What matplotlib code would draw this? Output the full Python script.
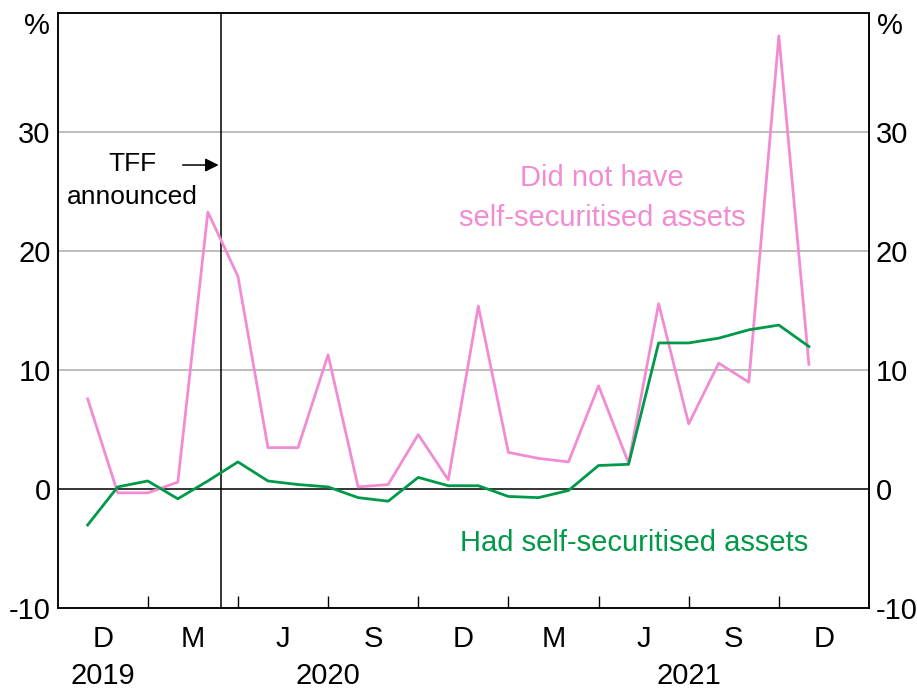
import matplotlib
matplotlib.use('Agg')
from matplotlib import pyplot as plt
from matplotlib.transforms import blended_transform_factory
import numpy as np

plt.rcParams['font.family'] = ['Liberation Sans', 'DejaVu Sans']

# monthly observations, Oct 2019 - Oct 2021 (x = months since 1 Oct 2019, at month end)
months = np.arange(1, 26)
no_self_sec = [7.6, -0.3, -0.3, 0.6, 23.3, 17.9, 3.5, 3.5, 11.3, 0.2, 0.4, 4.6, 0.8,
               15.4, 3.1, 2.6, 2.3, 8.7, 2.2, 15.6, 5.5, 10.6, 9.0, 38.1, 10.5]
had_self_sec = [-3.0, 0.2, 0.7, -0.8, 0.7, 2.3, 0.7, 0.4, 0.2, -0.7, -1.0, 1.0, 0.3,
                0.3, -0.6, -0.7, -0.1, 2.0, 2.1, 12.3, 12.3, 12.7, 13.4, 13.8, 12.0]
quarter_labels = ['D', 'M', 'J', 'S', 'D', 'M', 'J', 'S', 'D']
years = ['2019', '2020', '2021']
year_pos = [1.5, 9, 21]
tff_date = 5.45  # TFF announced, March 2020

pink = '#F28CD2'
green = '#00994A'
fs = 21

fig = plt.figure(figsize=(9.17, 6.91), dpi=100)
ax = fig.add_axes([57.6 / 917, (691 - 608.3) / 691, (869 - 57.6) / 917, (608.3 - 13.3) / 691])

ax.set_xlim(0, 27)
ax.set_ylim(-10, 40)

for y in [10, 20, 30]:
    ax.axhline(y, color='#ababab', lw=1.1, zorder=1)
ax.axhline(0, color='black', lw=1.1, zorder=2)
ax.axvline(tff_date, color='black', lw=1.1, zorder=2)

ax.plot(months, no_self_sec, color=pink, lw=2, zorder=3)
ax.plot(months, had_self_sec, color=green, lw=2, zorder=4)

# x axis: quarter ticks with labels centred in each quarter
ax.set_xticks(np.arange(3, 27, 3), minor=True)
ax.set_xticks(np.arange(1.5, 27, 3))
ax.set_xticklabels(quarter_labels, fontsize=fs)
ax.tick_params(axis='x', which='major', length=0, pad=12)
ax.tick_params(axis='x', which='minor', direction='in', length=8.5, width=1, color='black')
xtrans = blended_transform_factory(ax.transData, ax.transAxes)
for yr, xp in zip(years, year_pos):
    ax.text(xp, -0.113, yr, transform=xtrans, ha='center', va='center', fontsize=fs)

# y axes on both sides
ticks = [-10, 0, 10, 20, 30]
ax.set_yticks(ticks)
ax.set_yticklabels([str(t) for t in ticks], fontsize=fs)
ax.tick_params(axis='y', length=0, pad=5)
ax2 = ax.twinx()
ax2.set_ylim(ax.get_ylim())
ax2.set_yticks(ticks)
ax2.set_yticklabels([str(t) for t in ticks], fontsize=fs)
ax2.tick_params(axis='y', length=0, pad=5)
ytrans = blended_transform_factory(ax.transAxes, ax.transData)
ax.text(-0.01, 38.9, '%', transform=ytrans, ha='right', va='center', fontsize=fs)
ax.text(1.01, 38.9, '%', transform=ytrans, ha='left', va='center', fontsize=fs)

for a in (ax, ax2):
    for s in a.spines.values():
        s.set_linewidth(1.1)
        s.set_color('black')

# annotations
ax.text(2.5, 27.3, 'TFF', ha='center', va='center', fontsize=19)
ax.text(2.5, 24.6, 'announced', ha='center', va='center', fontsize=19)
ax.annotate('', xy=(tff_date, 27.25), xytext=(4.07, 27.25),
            arrowprops=dict(arrowstyle='-|>', color='black', lw=1.1, mutation_scale=20))
ax.text(18.12, 26.2, 'Did not have', color=pink, ha='center', va='center', fontsize=fs)
ax.text(18.12, 22.8, 'self-securitised assets', color=pink, ha='center', va='center', fontsize=fs)
ax.text(19.2, -4.5, 'Had self-securitised assets', color=green, ha='center',
        va='center', fontsize=fs)

plt.savefig('out.png', dpi=100)
